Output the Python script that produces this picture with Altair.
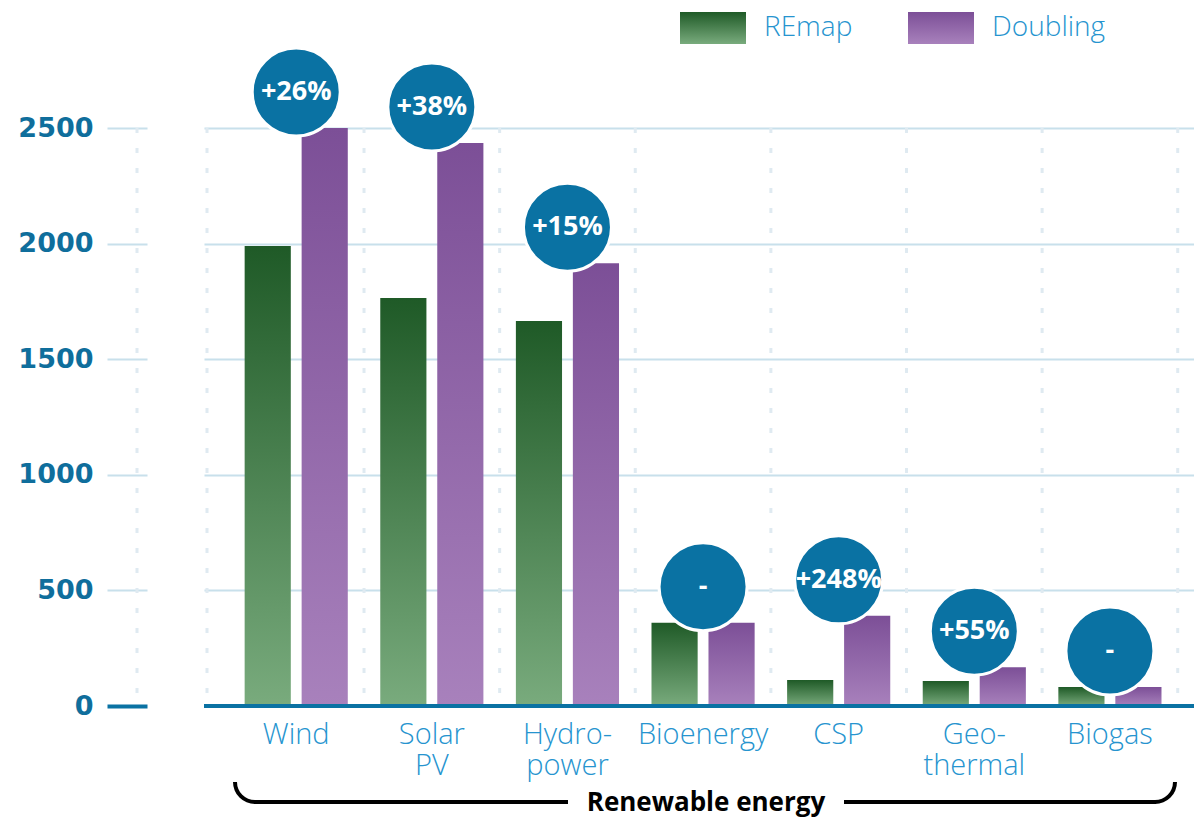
import math
import altair as alt
import pandas as pd

# ---- data -------------------------------------------------------------
categories = ["Wind", "Solar\nPV", "Hydro-\npower", "Bioenergy", "CSP", "Geo-\nthermal", "Biogas"]
remap = [1990, 1765, 1665, 360, 112, 108, 82]
doubling = [2500, 2435, 1915, 360, 390, 168, 82]
changes = ["+26%", "+38%", "+15%", "-", "+248%", "+55%", "-"]
series_names = ["REmap", "Doubling"]
y_ticks = [0, 500, 1000, 1500, 2000, 2500]
group_label = "Renewable energy"

# ---- styling ----------------------------------------------------------
W, H = 990, 578
BLUE = "#0a72a3"
GRID = "#c8e0eb"
DOT = "#dfeaf1"
LABEL_BLUE = "#2694cf"
FONT = "Open Sans"


def vgrad(top, bottom):
    return {
        "gradient": "linear", "x1": 0, "y1": 0, "x2": 0, "y2": 1,
        "stops": [{"offset": 0, "color": top}, {"offset": 1, "color": bottom}],
    }


GREEN_GRAD = vgrad("#1f5a27", "#79ab7d")
PURPLE_GRAD = vgrad("#7c4f97", "#a881bc")

bars_remap = pd.DataFrame({"category": categories, "value": remap, "series": series_names[0]})
bars_doubling = pd.DataFrame({"category": categories, "value": doubling, "series": series_names[1]})
badges = pd.DataFrame({"category": categories, "value": doubling, "change": changes})
cat_df = pd.DataFrame({"category": categories})
blank = alt.Data(values=[{}])

x_scale = alt.Scale(domain=categories, paddingInner=0, paddingOuter=0.15, align=0.6)
y_scale = alt.Scale(domain=[0, 2500], nice=False)

x_axis = alt.Axis(
    labelExpr="split(datum.label, '\\n')",
    labelFont=FONT, labelFontSize=29, labelFontWeight=300, labelColor=LABEL_BLUE,
    labelPadding=14, labelLineHeight=31, labelAngle=0,
    ticks=False, domain=False, grid=False, title=None,
)
y_axis = alt.Axis(
    values=y_ticks, format="d", title=None,
    domain=False, grid=True, gridColor=GRID, gridWidth=2,
    ticks=True, tickSize=40, offset=57,
    tickColor=alt.condition("datum.value == 0", alt.value(BLUE), alt.value(GRID)),
    tickWidth=alt.condition("datum.value == 0", alt.value(4), alt.value(2)),
    labelFont="DejaVu Sans", labelFontWeight="bold", labelFontSize=27,
    labelColor="#0f6e9c", labelPadding=14,
)

x_enc = alt.X("category:N", scale=x_scale, axis=x_axis, title=None)
y_enc = alt.Y("value:Q", scale=y_scale, axis=y_axis, title=None)
xoff = alt.XOffset("series:N", scale=alt.Scale(domain=series_names, paddingInner=0.19, paddingOuter=0.285))

# dotted separators between the technology groups
separators = alt.Chart(cat_df).mark_rule(color=DOT, strokeWidth=3, strokeDash=[5, 15]).encode(
    x=alt.X("category:N", bandPosition=1, scale=x_scale, axis=x_axis, title=None),
    y=alt.value(0), y2=alt.value(H),
)
sep_left = alt.Chart(blank).mark_rule(color=DOT, strokeWidth=3, strokeDash=[5, 15]).encode(
    x=alt.value(3), y=alt.value(0), y2=alt.value(H)
)
sep_margin = alt.Chart(blank).mark_rule(color=DOT, strokeWidth=3, strokeDash=[5, 15]).encode(
    x=alt.value(-67), y=alt.value(0), y2=alt.value(H)
)

remap_bars = alt.Chart(bars_remap).mark_bar(fill=GREEN_GRAD, stroke=None).encode(
    x=x_enc, y=y_enc, xOffset=xoff
)
doubling_bars = alt.Chart(bars_doubling).mark_bar(fill=PURPLE_GRAD, stroke=None).encode(
    x=x_enc, y=y_enc, xOffset=xoff
)

zero_line = alt.Chart(blank).mark_rule(color=BLUE, strokeWidth=4).encode(
    y=alt.datum(0, scale=y_scale)
)

badge_circles = alt.Chart(badges).mark_circle(
    color=BLUE, opacity=1, size=7744, stroke="white", strokeWidth=3, yOffset=-36
).encode(x=x_enc, y=y_enc)
badge_text = alt.Chart(badges).mark_text(
    color="white", font=FONT, fontWeight="bold", fontSize=27, yOffset=-36,
    align="center", baseline="middle",
).encode(x=x_enc, y=y_enc, text="change:N")

# legend: gradient swatches with their series names
def legend_entry(name, grad, left):
    swatch = alt.Chart(blank).mark_rect(fill=grad).encode(
        x=alt.value(left), x2=alt.value(left + 66), y=alt.value(-116), y2=alt.value(-84)
    )
    label = alt.Chart(blank).mark_text(
        text=name, font=FONT, fontSize=28, fontWeight=300, color=LABEL_BLUE,
        align="left", baseline="middle",
    ).encode(x=alt.value(left + 84), y=alt.value(-100))
    return swatch + label


legend_remap = legend_entry(series_names[0], GREEN_GRAD, 476)
legend_doubling = legend_entry(series_names[1], PURPLE_GRAD, 704)

# bracket under the category labels
arc_left = alt.Chart(blank).mark_arc(color="black").encode(
    x=alt.value(51), y=alt.value(654),
    theta=alt.value(math.pi), theta2=alt.value(1.5 * math.pi),
    radius=alt.value(22), radius2=alt.value(18),
)
arc_right = alt.Chart(blank).mark_arc(color="black").encode(
    x=alt.value(951), y=alt.value(654),
    theta=alt.value(0.5 * math.pi), theta2=alt.value(math.pi),
    radius=alt.value(22), radius2=alt.value(18),
)
line_left = alt.Chart(blank).mark_rule(color="black", strokeWidth=4).encode(
    x=alt.value(50), x2=alt.value(364), y=alt.value(674)
)
line_right = alt.Chart(blank).mark_rule(color="black", strokeWidth=4).encode(
    x=alt.value(640), x2=alt.value(952), y=alt.value(674)
)
bracket_text = alt.Chart(blank).mark_text(
    text=group_label, font=FONT, fontWeight="bold", fontSize=26, color="black",
    align="center", baseline="middle",
).encode(x=alt.value(502), y=alt.value(675))

chart = alt.layer(
    separators, sep_left, sep_margin, remap_bars, doubling_bars, zero_line,
    badge_circles, badge_text, legend_remap, legend_doubling,
    arc_left, arc_right, line_left, line_right, bracket_text,
).properties(
    width=W, height=H,
    autosize=alt.AutoSizeParams(type="none"),
    padding={"left": 204, "top": 128, "right": 0, "bottom": 113},
    background="white",
).configure_view(stroke=None)

chart.save("out.html", embed_options={"renderer": "svg", "actions": False})
